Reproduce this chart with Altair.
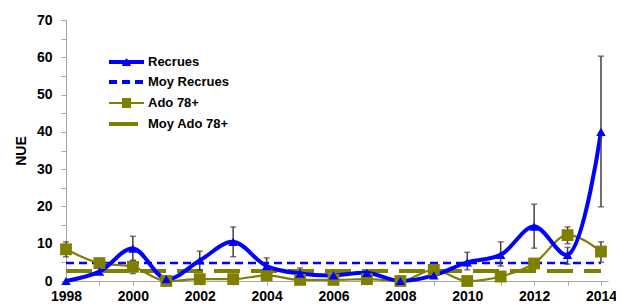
import altair as alt
import pandas as pd

years = list(range(1998, 2015))
recrues = [0, 2.5, 8.7, 0.5, 5.5, 10.5, 4.0, 2.0, 1.5, 2.2, 0.0, 1.5, 5.0, 7.0, 14.6, 7.0, 40.0]
recrues_lo = [None, None, 5.5, None, 3.0, 6.5, 1.5, 0.5, None, None, None, None, 3.0, 4.0, 8.8, 4.5, 19.9]
recrues_hi = [None, None, 12.0, None, 8.0, 14.5, 6.2, 3.5, None, None, None, None, 7.7, 10.5, 20.6, 9.0, 60.3]
ado = [8.5, 4.8, 3.8, 0.0, 0.5, 0.5, 1.5, 0.3, 0.3, 0.5, 0.0, 3.0, 0.0, 1.2, 4.7, 12.3, 7.9]
ado_lo = [6.5, 3.5, 2.0, None, None, None, None, None, None, None, None, None, None, None, 3.5, 10.0, 5.0]
ado_hi = [10.5, 6.0, 5.5, None, None, None, None, None, None, None, None, None, None, None, 5.5, 14.5, 10.5]
moy_recrues = 4.8
moy_ado = 2.7
legend_labels = ["Recrues", "Moy Recrues", "Ado 78+", "Moy Ado 78+"]

BLUE = "#0000FF"
OLIVE = "#808000"
ERR = "#404040"
AXC = "#A6A6A6"
FONT = "Liberation Sans"

df = pd.DataFrame({"year": years, "recrues": recrues, "ado": ado})
err = pd.DataFrame({
    "year": years * 2,
    "lo": recrues_lo + ado_lo,
    "hi": recrues_hi + ado_hi,
}).dropna()
means = pd.DataFrame({"s": ["r", "a"], "v": [moy_recrues, moy_ado],
                      "x0": [years[0], years[0]], "x1": [years[-1], years[-1]]})

xscale = alt.Scale(domain=[1998, 2014.21], nice=False, zero=False)
yscale = alt.Scale(domain=[0, 70], nice=False)

xaxis = alt.Axis(values=years, labelExpr="datum.value % 2 == 0 ? datum.label : ''",
                 format="d", grid=False, domainColor=AXC, tickColor=AXC,
                 tickSize=4, labelFont=FONT, labelFontSize=14, labelFontWeight="bold",
                 labelColor="#000000", labelPadding=4, title=None, labelFlush=False,
                 labelOverlap=False)
yaxis = alt.Axis(values=list(range(0, 71, 5)),
                 labelExpr="datum.value % 10 == 0 ? datum.label : ''",
                 grid=False, domainColor=AXC, tickColor=AXC, tickSize=5,
                 labelFont=FONT, labelFontSize=14, labelFontWeight="bold",
                 labelColor="#000000", labelPadding=9, title="NUE",
                 titleFont=FONT, titleFontSize=14, titleFontWeight="bold",
                 titleColor="#000000", titlePadding=8, labelOverlap=False)


def X(f):
    return alt.X(f, scale=xscale, axis=xaxis)


def Y(f):
    return alt.Y(f, scale=yscale, axis=yaxis)


base = alt.Chart(df)

mean_r = alt.Chart(means[means.s == "r"]).mark_rule(color=BLUE, strokeWidth=2.5, strokeDash=[8, 5]).encode(
    x=X("x0:Q"), x2="x1:Q", y=Y("v:Q"))
mean_a = alt.Chart(means[means.s == "a"]).mark_rule(color=OLIVE, strokeWidth=4, strokeDash=[26, 11]).encode(
    x=X("x0:Q"), x2="x1:Q", y=Y("v:Q"))

ado_line = base.mark_line(color=OLIVE, strokeWidth=2.2, interpolate="monotone").encode(
    x=X("year:Q"), y=Y("ado:Q"))
rec_line = base.mark_line(color=BLUE, strokeWidth=4, interpolate="catmull-rom").encode(
    x=X("year:Q"), y=Y("recrues:Q"))

err_rule = alt.Chart(err).mark_rule(color=ERR, strokeWidth=1.5).encode(
    x=X("year:Q"), y=Y("lo:Q"), y2="hi:Q")
err_top = alt.Chart(err).mark_tick(color=ERR, orient="horizontal", size=6, thickness=1.5).encode(
    x=X("year:Q"), y=Y("hi:Q"))
err_bot = alt.Chart(err).mark_tick(color=ERR, orient="horizontal", size=6, thickness=1.5).encode(
    x=X("year:Q"), y=Y("lo:Q"))

ado_pts = base.mark_point(shape="square", filled=True, color=OLIVE, size=140, opacity=1).encode(
    x=X("year:Q"), y=Y("ado:Q"))
rec_pts = base.mark_point(shape="triangle-up", filled=True, color=BLUE, size=90, opacity=1).encode(
    x=X("year:Q"), y=Y("recrues:Q"))

# legend (manual, inside plot)
ly = [42, 62, 83, 104]
lx0, lx1, ltx = 43, 78, 82
leg = []
leg.append(alt.Chart(df).mark_rule(color=BLUE, strokeWidth=4).encode(
    x=alt.value(lx0), x2=alt.value(lx1), y=alt.value(ly[0])))
leg.append(alt.Chart(df).mark_point(shape="triangle-up", filled=True, color=BLUE, size=60, opacity=1).encode(
    x=alt.value((lx0 + lx1) / 2), y=alt.value(ly[0])))
leg.append(alt.Chart(df).mark_rule(color=BLUE, strokeWidth=2.5, strokeDash=[8, 5]).encode(
    x=alt.value(lx0), x2=alt.value(lx1), y=alt.value(ly[1])))
leg.append(alt.Chart(df).mark_rule(color=OLIVE, strokeWidth=2.2).encode(
    x=alt.value(lx0), x2=alt.value(lx1), y=alt.value(ly[2])))
leg.append(alt.Chart(df).mark_point(shape="square", filled=True, color=OLIVE, size=80, opacity=1).encode(
    x=alt.value((lx0 + lx1) / 2), y=alt.value(ly[2])))
leg.append(alt.Chart(df).mark_rule(color=OLIVE, strokeWidth=4).encode(
    x=alt.value(lx0), x2=alt.value(lx1 - 6), y=alt.value(ly[3])))
for i, lab in enumerate(legend_labels):
    leg.append(alt.Chart(pd.DataFrame({"t": [lab]})).mark_text(
        align="left", baseline="middle", font=FONT, fontSize=13, fontWeight="bold",
        color="#000000").encode(x=alt.value(ltx), y=alt.value(ly[i]), text="t:N"))

chart = alt.layer(mean_r, mean_a, ado_line, rec_line, err_rule, err_top, err_bot,
                  ado_pts, rec_pts, *leg).properties(
    width=542, height=261,
    autosize=alt.AutoSizeParams(type="none"),
    padding={"left": 58, "top": 12, "right": 8, "bottom": 24},
    background="white",
).configure_view(stroke=None)

chart.save("out.html", embed_options={"renderer": "svg", "actions": False})
